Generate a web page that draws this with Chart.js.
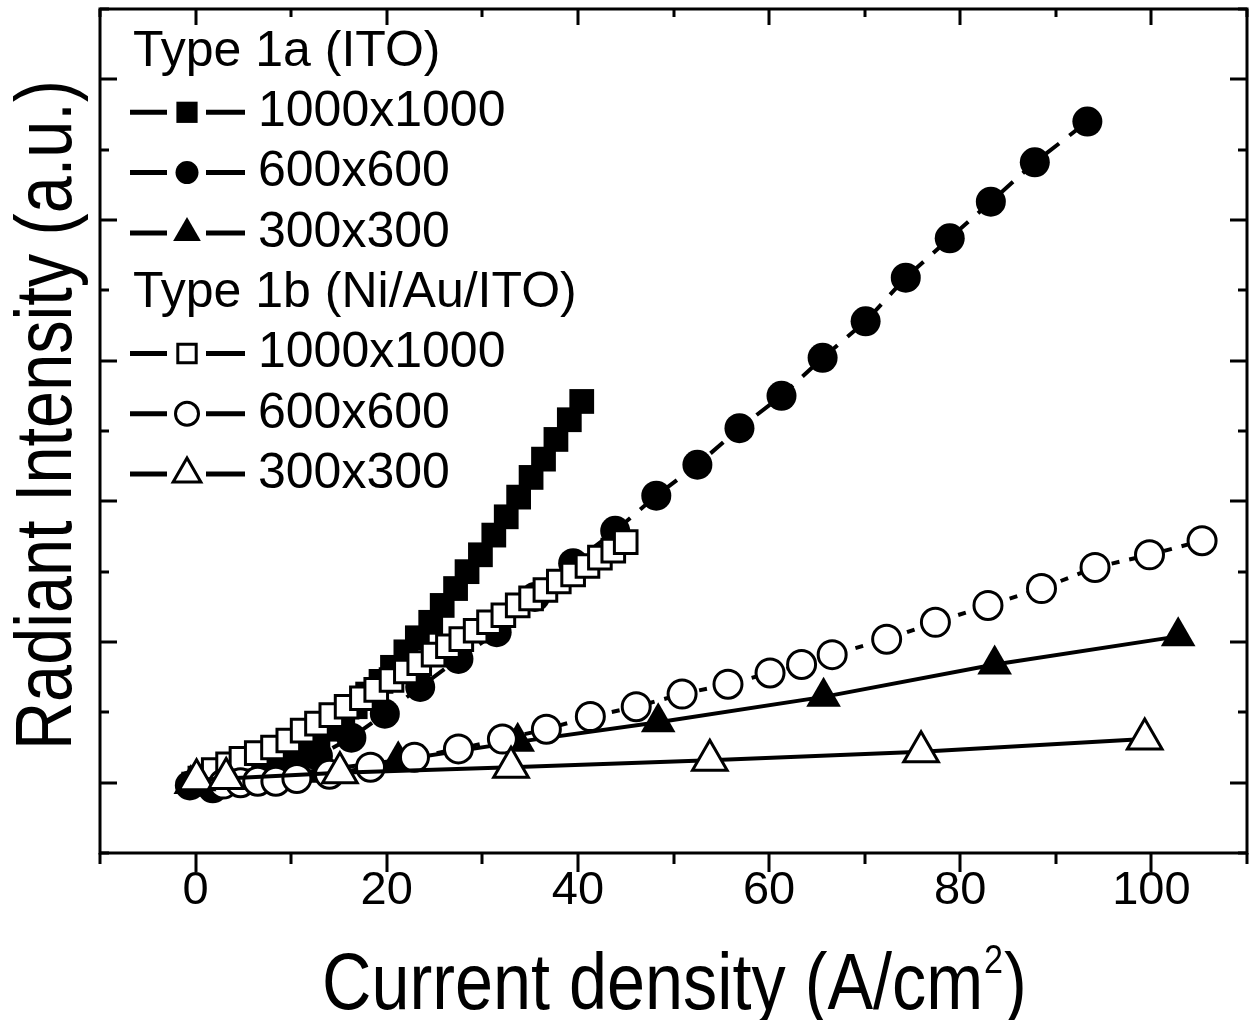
<!DOCTYPE html>
<html><head><meta charset="utf-8">
<script src="https://cdn.jsdelivr.net/npm/chart.js@4.4.1/dist/chart.umd.min.js"></script>
<style>html,body{margin:0;padding:0;background:#fff;} #wrap{width:1257px;height:1020px;}</style>
</head><body><div id="wrap"><canvas id="c" width="1257" height="1020"></canvas></div>
<script>
// ---------------- data ----------------
const xTickValues = [0, 20, 40, 60, 80, 100];
const xTickLabels = ['0', '20', '40', '60', '80', '100'];
const xTitleMain = 'Current density (A/cm';
const xTitleSup = '2';
const xTitleEnd = ')';
const yTitle = 'Radiant Intensity (a.u.)';
const legendHeaders = ['Type 1a (ITO)', 'Type 1b (Ni/Au/ITO)'];
const sizeLabels = ['1000x1000', '600x600', '300x300'];

// Type 1a (ITO)
const x1a1000 = [-0.2,1.1,2.3,3.7,5.0,6.3,7.6,8.9,10.2,11.5,12.8,14.1,15.4,16.7,18.0,19.4,20.6,22.0,23.2,24.6,25.8,27.2,28.4,29.8,31.2,32.5,33.8,35.1,36.4,37.7,39.1,40.4];
const y1a1000 = [-0.01,-0.01,0.00,0.01,0.04,0.06,0.10,0.14,0.19,0.25,0.31,0.38,0.46,0.54,0.63,0.72,0.82,0.93,1.03,1.14,1.26,1.38,1.50,1.62,1.76,1.89,2.03,2.17,2.30,2.44,2.58,2.71];
const x1a600 = [-0.6,1.8,5.7,9.3,12.8,16.3,19.8,23.5,27.5,31.5,35.5,39.5,43.9,48.2,52.5,56.9,61.3,65.6,70.1,74.3,78.9,83.2,87.8,93.3];
const y1a600 = [-0.02,-0.04,0.02,0.09,0.19,0.32,0.49,0.68,0.88,1.07,1.32,1.56,1.79,2.04,2.26,2.52,2.75,3.02,3.28,3.59,3.87,4.13,4.41,4.70];
const x1a300 = [-0.5,0.3,3.5,11.0,21.2,33.7,48.4,65.7,83.6,102.8];
const y1a300 = [-0.01,0.00,0.01,0.07,0.16,0.29,0.43,0.61,0.84,1.04];

// Type 1b (Ni/Au/ITO)
const x1b1000 = [0.5,1.9,3.4,4.8,6.4,8.1,9.7,11.2,12.7,14.2,15.8,17.4,18.9,20.5,22.0,23.4,24.9,26.4,27.8,29.3,30.7,32.2,33.7,35.1,36.6,38.0,39.5,41.0,42.3,43.7,45.0];
const y1b1000 = [0.03,0.09,0.13,0.17,0.21,0.25,0.30,0.37,0.42,0.48,0.54,0.60,0.66,0.73,0.79,0.85,0.91,0.97,1.02,1.08,1.14,1.19,1.26,1.31,1.37,1.43,1.48,1.54,1.60,1.65,1.71];
const x1b600 = [2.9,4.7,6.5,8.4,10.6,14.0,18.3,22.9,27.5,32.1,36.7,41.3,46.1,50.9,55.7,60.1,63.4,66.6,72.3,77.4,82.9,88.5,94.1,99.8,105.3];
const y1b600 = [-0.01,0.00,0.01,0.01,0.03,0.06,0.11,0.18,0.24,0.31,0.38,0.47,0.54,0.63,0.70,0.78,0.84,0.91,1.02,1.14,1.26,1.38,1.53,1.62,1.72];
const x1b300 = [0.1,3.2,15.1,33.0,53.8,75.9,99.3];
const y1b300 = [0.02,0.03,0.07,0.11,0.16,0.22,0.31];

// ---------------- chart ----------------
const FONT = "'Liberation Sans', Arial, sans-serif";
const pts = (xs, ys) => xs.map((x, i) => ({x: x, y: ys[i]}));

function series(label, xs, ys, style, filled, dash, order, radius) {
  return {
    label: label,
    data: pts(xs, ys),
    borderColor: '#000',
    borderWidth: 4,
    borderDash: dash,
    fill: false,
    tension: 0,
    pointStyle: style,
    pointRadius: radius,
    pointHoverRadius: radius,
    pointBackgroundColor: filled ? '#000' : '#fff',
    pointBorderColor: '#000',
    pointBorderWidth: filled ? 0 : 3,
    order: order,
    filledMarker: filled
  };
}

const datasets = [
  series(legendHeaders[0] + ' ' + sizeLabels[0], x1a1000, y1a1000, 'rect', true, [], 5, 17.5),
  series(legendHeaders[0] + ' ' + sizeLabels[1], x1a600, y1a600, 'circle', true, [17, 13], 4, 15),
  series(legendHeaders[0] + ' ' + sizeLabels[2], x1a300, y1a300, 'triangle', true, [], 3, 20),
  series(legendHeaders[1] + ' ' + sizeLabels[0], x1b1000, y1b1000, 'rect', false, [], 2, 16),
  series(legendHeaders[1] + ' ' + sizeLabels[1], x1b600, y1b600, 'circle', false, [8, 10], 1, 14),
  series(legendHeaders[1] + ' ' + sizeLabels[2], x1b300, y1b300, 'triangle', false, [], 0, 20)
];

const framePlugin = {
  id: 'frame',
  afterDraw(chart) {
    const ctx = chart.ctx, a = chart.chartArea;
    const xs = chart.scales.x, ys = chart.scales.y;
    ctx.save();
    ctx.strokeStyle = '#000';
    ctx.lineWidth = 3;
    ctx.lineCap = 'butt';
    ctx.beginPath();
    ctx.rect(a.left, a.top, a.right - a.left, a.bottom - a.top);
    ctx.stroke();
    ctx.beginPath();
    xs.ticks.forEach(t => {
      const px = Math.round(xs.getPixelForValue(t.value));
      const major = xTickValues.indexOf(t.value) >= 0;
      ctx.moveTo(px, a.bottom);
      ctx.lineTo(px, a.bottom + (major ? 19 : 11));
      ctx.moveTo(px, a.top);
      ctx.lineTo(px, a.top + (major ? 16 : 8));
    });
    ys.ticks.forEach(t => {
      const py = Math.round(ys.getPixelForValue(t.value));
      const major = Math.abs(t.value - Math.round(t.value)) < 1e-6;
      ctx.moveTo(a.left, py);
      ctx.lineTo(a.left + (major ? 17 : 9), py);
      ctx.moveTo(a.right, py);
      ctx.lineTo(a.right - (major ? 17 : 9), py);
    });
    ctx.stroke();

    // axis titles (condensed like the original)
    ctx.fillStyle = '#000';
    ctx.textBaseline = 'alphabetic';
    ctx.textAlign = 'left';
    // x title
    ctx.font = '80px ' + FONT;
    const wMain = ctx.measureText(xTitleMain).width;
    const wEnd = ctx.measureText(xTitleEnd).width;
    ctx.font = '40px ' + FONT;
    const wSup = ctx.measureText(xTitleSup).width;
    const total = wMain + wSup + wEnd;
    const sx = 703 / total;
    const cx = (a.left + a.right) / 2;
    ctx.save();
    ctx.translate(cx - 703 / 2, 1009);
    ctx.scale(sx, 1);
    ctx.font = '80px ' + FONT;
    ctx.fillText(xTitleMain, 0, 0);
    ctx.font = '40px ' + FONT;
    ctx.fillText(xTitleSup, wMain + 1, -36);
    ctx.font = '80px ' + FONT;
    ctx.fillText(xTitleEnd, wMain + wSup + 2, 0);
    ctx.restore();
    // y title
    ctx.font = '80px ' + FONT;
    const wy = ctx.measureText(yTitle).width;
    const sy = 670 / wy;
    ctx.save();
    ctx.translate(71, 415);
    ctx.rotate(-Math.PI / 2);
    ctx.scale(sy, 1);
    ctx.textAlign = 'center';
    ctx.fillText(yTitle, 0, 0);
    ctx.restore();
    ctx.restore();
  }
};

const legendPlugin = {
  id: 'customLegend',
  afterDraw(chart) {
    const ctx = chart.ctx;
    const ds = chart.data.datasets;
    const rowH = 60.3, y0 = 52;
    ctx.save();
    ctx.font = '50px ' + FONT;
    ctx.fillStyle = '#000';
    ctx.textBaseline = 'middle';
    ctx.textAlign = 'left';
    let row = 0;
    for (let g = 0; g < 2; g++) {
      ctx.fillStyle = '#000';
      ctx.fillText(legendHeaders[g], 133, y0 + row * rowH);
      row++;
      for (let k = 0; k < 3; k++) {
        const d = ds[g * 3 + k];
        const y = y0 + row * rowH;
        ctx.strokeStyle = '#000';
        ctx.lineWidth = 5;
        ctx.beginPath();
        ctx.moveTo(130, y); ctx.lineTo(167, y);
        ctx.moveTo(206, y); ctx.lineTo(245, y);
        ctx.stroke();
        ctx.fillStyle = d.pointBackgroundColor;
        ctx.strokeStyle = '#000';
        ctx.lineWidth = d.pointBorderWidth;
        const r = d.pointStyle === 'triangle' ? 16 : (d.pointStyle === 'rect' ? (d.filledMarker ? 15 : 13) : 11.5);
        Chart.helpers.drawPoint(ctx, {pointStyle: d.pointStyle, radius: r, rotation: 0, borderWidth: d.pointBorderWidth}, 187, y);
        ctx.fillStyle = '#000';
        ctx.fillText(sizeLabels[k], 258, y);
        row++;
      }
    }
    ctx.restore();
  }
};

new Chart(document.getElementById('c'), {
  type: 'line',
  data: { datasets: datasets },
  options: {
    responsive: false,
    animation: false,
    devicePixelRatio: 1,
    layout: { autoPadding: false, padding: { top: 9, right: 10, left: 0, bottom: 0 } },
    plugins: { legend: { display: false }, tooltip: { enabled: false } },
    scales: {
      x: {
        type: 'linear', min: -10, max: 110,
        grid: { display: false, drawTicks: false },
        border: { display: false },
        ticks: {
          stepSize: 10, autoSkip: false, maxRotation: 0, padding: 10, color: '#000',
          font: { family: FONT, size: 47, lineHeight: 1.2 },
          callback: (v) => { const i = xTickValues.indexOf(v); return i >= 0 ? xTickLabels[i] : ''; }
        },
        title: { display: false },
        afterFit(s) { s.height = 167; }
      },
      y: {
        type: 'linear', min: -0.5, max: 5.5,
        grid: { display: false, drawTicks: false },
        border: { display: false },
        ticks: { display: false, stepSize: 0.5 },
        title: { display: false },
        afterFit(s) { s.width = 100; }
      }
    }
  },
  plugins: [framePlugin, legendPlugin]
});
</script>
</body></html>
